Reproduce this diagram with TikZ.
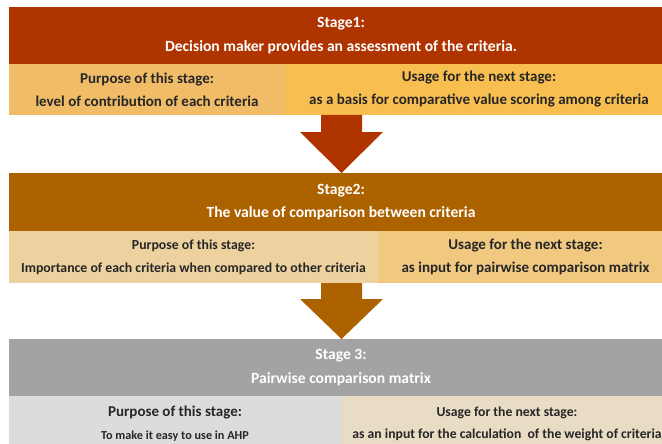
\documentclass[tikz,border=0pt]{standalone}
\usepackage{fontspec}
\setmainfont{Carlito}
\usetikzlibrary{calc}
\definecolor{hA}{RGB}{176,52,0}
\definecolor{pA}{RGB}{240,188,104}
\definecolor{uA}{RGB}{248,190,80}
\definecolor{hB}{RGB}{173,98,0}
\definecolor{pB}{RGB}{237,210,160}
\definecolor{uB}{RGB}{240,200,128}
\definecolor{hC}{RGB}{163,163,163}
\definecolor{pC}{RGB}{220,220,220}
\definecolor{uC}{RGB}{232,220,196}
\tikzset{
  cell/.style={rectangle, inner sep=0pt, outer sep=0pt, align=center, anchor=north west},
  head/.style={cell, text=white, font={\bfseries\fontsize{15.6}{23.5}\selectfont}},
  sub/.style={cell, text=black!85, font={\bfseries\fontsize{15}{23}\selectfont}},
}
\begin{document}
\begin{tikzpicture}[x=1pt,y=-1pt]
\clip (0,0) rectangle (662,444);
\fill[white] (0,0) rectangle (662,444);
% Stage 1
\node[head, fill=hA, minimum width=664, minimum height=57] (h1) at (9,7) {Stage1:\\Decision maker provides an assessment of the criteria.};
\node[sub, fill=pA, minimum width=276, minimum height=51] (p1) at (9,64) {Purpose of this stage:\\level of contribution of each criteria};
\node[sub, fill=uA, minimum width=388, minimum height=51] (u1) at (285,64) {Usage for the next stage:\\as a basis for comparative value scoring among criteria};
% Stage 2
\node[head, fill=hB, minimum width=664, minimum height=58] (h2) at (9,173) {Stage2:\\The value of comparison between criteria};
\node[sub, fill=pB, minimum width=369, minimum height=52, font={\bfseries\fontsize{13.8}{22.5}\selectfont}] (p2) at (9,231) {Purpose of this stage:\\Importance of each criteria when compared to other criteria};
\node[sub, fill=uB, minimum width=295, minimum height=52] (u2) at (378,231) {Usage for the next stage:\\as input for pairwise comparison matrix};
% Stage 3
\node[head, fill=hC, minimum width=664, minimum height=57] (h3) at (9,339) {Stage 3:\\Pairwise comparison matrix};
\node[sub, fill=pC, minimum width=332, minimum height=56] (p3) at (9,396) {Purpose of this stage:\\{\fontsize{12.2}{22}\selectfont To make it easy to use in AHP}};
\node[sub, fill=uC, minimum width=332, minimum height=56, font={\bfseries\fontsize{13.7}{22.5}\selectfont}] (u3) at (341,396) {Usage for the next stage:\\as an input for the calculation\ \ of the weight of criteria};
% Arrows
\coordinate (a1s) at (341.5,115);
\coordinate (a1t) at (341.5,173);
\fill[hA] ($(a1s)+(-20.5,0)$) -- ($(a1s)+(20.5,0)$) -- ($(a1s)+(20.5,17)$) -- ($(a1s)+(41.5,17)$) -- (a1t) -- ($(a1s)+(-41.5,17)$) -- ($(a1s)+(-20.5,17)$) -- cycle;
\coordinate (a2s) at (341.5,283);
\coordinate (a2t) at (341.5,339);
\fill[hB] ($(a2s)+(-20.5,0)$) -- ($(a2s)+(20.5,0)$) -- ($(a2s)+(20.5,16)$) -- ($(a2s)+(41.5,16)$) -- (a2t) -- ($(a2s)+(-41.5,16)$) -- ($(a2s)+(-20.5,16)$) -- cycle;
\end{tikzpicture}
\end{document}
